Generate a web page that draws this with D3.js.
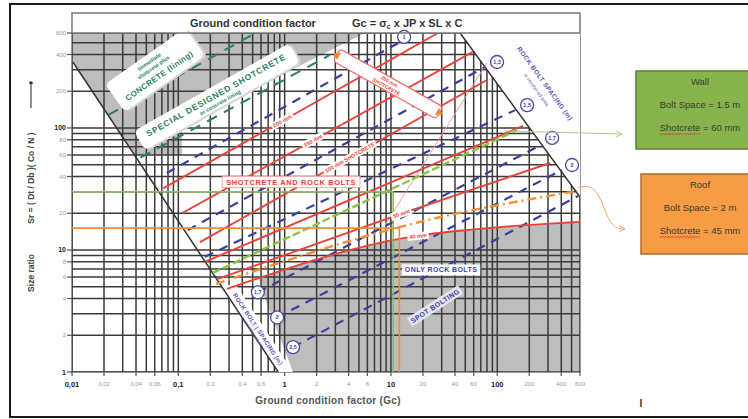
<!DOCTYPE html>
<html>
<head>
<meta charset="utf-8">
<script src="https://cdn.jsdelivr.net/npm/d3@7"></script>
<style>
  body { margin: 0; background: #fff; }
  svg { display: block; font-family: "Liberation Sans", Arial, sans-serif; }
</style>
</head>
<body>
<svg id="chart" width="748" height="419"></svg>
<script>
// axis ticks
const xTicks = [0.01, 0.02, 0.04, 0.06, 0.1, 0.2, 0.4, 0.6, 1, 2, 4, 6, 10, 20, 40, 60, 100, 200, 400, 600]
const xTickText = ['0,01', '0,02', '0,04', '0,06', '0,1', '0,2', '0,4', '0,6', '1', '2', '4', '6', '10', '20', '40', '60', '100', '200', '400', '600']
const yTicks = [1, 2, 4, 6, 8, 10, 20, 40, 60, 80, 100, 200, 400, 600]
const majorTicks = [0.01, 0.1, 1, 10, 100]

// shotcrete thickness lines, points are [Gc, Sr]
const shotcreteNames = ['200 mm', '150 mm', '100 mm SHOTCRETE', '', '50 mm', '40 mm']
const shotcreteLines = [
    [[0.072, 32], [27.7, 600]],
    [[0.108, 20], [59, 420]],
    [[0.16, 11.6], [80, 247]],
    [[0.178, 8.0], [175, 104]],
    [[0.236, 5.8], [12.2, 19.7], [314, 51.6]],
    [[0.287, 4.8], [15.1, 12.8], [106, 15.4], [600, 17.0]]
]
const shotcreteLabelGc = [0.95, 1.85, 4.1, null, 12.5, 18]

// rock bolt spacing lines (m)
const boltNames = ['1', '1,3', '1,5', '1,7', '2', '2,5']
const boltLines = [
    [[0.078, 42.8], [12.2, 507]],
    [[0.123, 14.6], [76.8, 316]],
    [[0.178, 8.8], [147, 140]],
    [[0.56, 4.5], [258, 72.6]],
    [[0.85, 2.8], [407, 45.3]],
    [[1.2, 1.6], [575, 27.7]]
]
const boltRingEnd = [[13.3, 557], [99.6, 347], [191, 154], [328, 82.8], [505, 49.7], null]
const boltRingStart = [null, null, null, [0.56, 4.5], [0.85, 2.8], [1.2, 1.6]]

// concrete lining lines
const liningLines = [
    [[0.022, 128], [0.53, 600]],
    [[0.044, 57], [2.67, 397]]
]

// boundaries and zones
const boundaryLeft = [[0.0102, 347], [0.87, 1]]
const boundaryRight = [[44.7, 600], [600, 27.2]]
const greyTop = [[0.01, 600], [5.7, 600], [1.56, 341], [0.108, 100], [0.108, 60], [0.0387, 60], [0.0102, 347], [0.01, 347]]
const greyBottomClip = [[0.61, 600], [600, 600], [600, 1], [1.2, 1], [0.61, 4.7]]
const whiteBand = [[0.247, 5.17], [0.349, 5.17], [1.2, 1], [0.87, 1]]
const whiteCorner = [[44.7, 600], [600, 600], [600, 27.2]]

// case study
const wallLine = [[0.212, 6.5], [153, 96]]
const roofLine = [[0.226, 5.27], [18.8, 17.0], [575, 30.5]]
const wallPoint = [10.5, 30]
const roofPoint = [12, 15.1]
const calloutEnds = [[2.85, 412], [30.9, 128]]
const pinkLine = [[80, 341], [8.8, 16]]
const wallText = ['Wall', 'Bolt Space = 1.5 m', 'Shotcrete = 60 mm']
const roofText = ['Roof', 'Bolt Space = 2 m', 'Shotcrete = 45 mm']

const RED = '#e8433b', BLUE = '#3b3f9c', TEAL = '#2f7f62', GREY = '#bdbdbd'

const svg = d3.select('#chart')
const x = d3.scaleLog().domain([0.01, 600]).range([72, 580])
const y = d3.scaleLog().domain([1, 600]).range([372, 33])
const P = d => [x(d[0]), y(d[1])]
const line = d3.line().x(d => x(d[0])).y(d => y(d[1])).curve(d3.curveMonotoneX)
const poly = pts => 'M' + pts.map(d => P(d).join(',')).join('L') + 'Z'

function pointOn(pts, g) {
    for (let i = 0; i < pts.length - 1; i++) {
        const a = pts[i], b = pts[i + 1]
        if (g >= a[0] && g <= b[0]) {
            const t = (Math.log(g) - Math.log(a[0])) / (Math.log(b[0]) - Math.log(a[0]))
            const s = Math.exp(Math.log(a[1]) + t * (Math.log(b[1]) - Math.log(a[1])))
            const ang = Math.atan2(y(b[1]) - y(a[1]), x(b[0]) - x(a[0])) * 180 / Math.PI
            return { px: x(g), py: y(s), ang }
        }
    }
}

function tag(parent, px, py, ang, txt, o) {
    const g = parent.append('g').attr('transform', `translate(${px},${py}) rotate(${ang})`)
    const r = g.append('rect')
    const t = g.append('text').attr('text-anchor', 'middle').attr('dy', '0.36em')
        .style('font-size', o.size + 'px').style('font-weight', 'bold')
        .attr('fill', o.color).attr('letter-spacing', o.ls || 0).text(txt)
    const w = t.node().getComputedTextLength() + (o.pad || 3) * 2
    const h = o.size + (o.hpad || 4)
    r.attr('x', -w / 2).attr('y', -h / 2).attr('width', w).attr('height', h)
        .attr('fill', o.fill || '#fff').attr('stroke', o.stroke || 'none').attr('stroke-width', 0.8)
        .attr('rx', o.rx || 0)
    return g
}

// outer border
svg.append('rect').attr('x', 10).attr('y', 4).attr('width', 760).attr('height', 413)
    .attr('fill', 'none').attr('stroke', '#1a1a1a').attr('stroke-width', 2)

const defs = svg.append('defs')
defs.append('clipPath').attr('id', 'plot').append('rect')
    .attr('x', 72).attr('y', 33).attr('width', 508).attr('height', 339)
defs.append('clipPath').attr('id', 'greyclip').append('path').attr('d', poly(greyBottomClip))

// chart frame and title band
svg.append('rect').attr('x', 72).attr('y', 13).attr('width', 508).attr('height', 359)
    .attr('fill', '#fff').attr('stroke', '#777').attr('stroke-width', 1.5)

const plot = svg.append('g').attr('clip-path', 'url(#plot)')

// grey zones
plot.append('path').attr('d', poly(greyTop)).attr('fill', GREY)
plot.append('path')
    .attr('d', d3.area().x(d => x(d[0])).y0(y(1)).y1(d => y(d[1])).curve(d3.curveMonotoneX)(shotcreteLines[5]))
    .attr('fill', GREY).attr('clip-path', 'url(#greyclip)')

// grid
const gx = x.ticks().filter(v => v >= 0.01 && v <= 600)
const gy = y.ticks().filter(v => v >= 1 && v <= 600)
plot.selectAll('.gx').data(gx).join('line').attr('class', 'gx')
    .attr('x1', d => x(d)).attr('x2', d => x(d)).attr('y1', 33).attr('y2', 372)
    .attr('stroke', '#3a3a3a').attr('stroke-width', 1.5)
plot.selectAll('.gy').data(gy).join('line').attr('class', 'gy')
    .attr('y1', d => y(d)).attr('y2', d => y(d)).attr('x1', 72).attr('x2', 580)
    .attr('stroke', '#3a3a3a').attr('stroke-width', 1.5)

// white zones without grid
plot.append('path').attr('d', poly(whiteCorner)).attr('fill', '#fff')
plot.append('path').attr('d', poly(whiteBand)).attr('fill', '#fff')

// boundaries
plot.selectAll('.bound').data([boundaryLeft, boundaryRight]).join('path').attr('class', 'bound')
    .attr('d', line).attr('fill', 'none').attr('stroke', '#333').attr('stroke-width', 1.5)

// concrete lining lines
plot.selectAll('.lining').data(liningLines).join('path').attr('class', 'lining')
    .attr('d', line).attr('fill', 'none').attr('stroke', TEAL).attr('stroke-width', 2)
    .attr('stroke-dasharray', '11,8')

// pink guide
plot.append('path').attr('d', line(pinkLine)).attr('fill', 'none')
    .attr('stroke', '#f3a0a0').attr('stroke-width', 1)

// bolt spacing lines
plot.selectAll('.bolt').data(boltLines).join('path').attr('class', 'bolt')
    .attr('d', line).attr('fill', 'none').attr('stroke', BLUE).attr('stroke-width', 2.2)
    .attr('stroke-dasharray', '9,7')

// shotcrete lines
plot.selectAll('.shot').data(shotcreteLines).join('path').attr('class', 'shot')
    .attr('d', line).attr('fill', 'none').attr('stroke', RED).attr('stroke-width', 1.9)

// wall and roof interpolation lines
plot.append('path').attr('d', line(wallLine)).attr('fill', 'none')
    .attr('stroke', '#8cc43f').attr('stroke-width', 2.4).attr('stroke-dasharray', '8,3')
plot.append('path').attr('d', line(roofLine)).attr('fill', 'none')
    .attr('stroke', '#f0922c').attr('stroke-width', 2.4).attr('stroke-dasharray', '9,4,2,4')

// reading lines
plot.append('path')
    .attr('d', `M${x(0.01)},${y(wallPoint[1])}H${x(wallPoint[0])}V${y(1)}`)
    .attr('fill', 'none').attr('stroke', '#8dc050').attr('stroke-width', 1.6)
plot.append('path')
    .attr('d', `M${x(0.01)},${y(roofPoint[1])}H${x(roofPoint[0])}V${y(1)}`)
    .attr('fill', 'none').attr('stroke', '#ee8e34').attr('stroke-width', 1.6)

// labels on shotcrete lines
shotcreteLines.forEach((pts, i) => {
    if (!shotcreteNames[i]) return
    const p = pointOn(pts, shotcreteLabelGc[i])
    tag(svg, p.px, p.py, p.ang, shotcreteNames[i], { size: 5.5, color: RED, pad: 2, hpad: 2 })
})

tag(svg, x(1.15), y(36.1), 0, 'SHOTCRETE AND ROCK BOLTS',
    { size: 7.5, color: RED, ls: 0.6, stroke: '#f29090', pad: 4, hpad: 4 })
tag(svg, x(29.6), y(6.86), 0, 'ONLY ROCK BOLTS',
    { size: 7, color: BLUE, ls: 0.4, pad: 3, hpad: 4 })
tag(svg, x(26), y(3.48), -33, 'SPOT BOLTING',
    { size: 7, color: BLUE, ls: 0.4, pad: 2, hpad: 3, fill: '#e4e4ee' })

// lining label boxes
function tealBox(px, py, ang, w, h, lines) {
    const g = svg.append('g').attr('transform', `translate(${px},${py}) rotate(${ang})`)
    g.append('rect').attr('x', -w / 2 + 2).attr('y', -h / 2 + 2).attr('width', w).attr('height', h)
        .attr('rx', 5).attr('fill', '#d6d6d6')
    g.append('rect').attr('x', -w / 2).attr('y', -h / 2).attr('width', w).attr('height', h)
        .attr('rx', 5).attr('fill', '#fff')
    lines.forEach(l => {
        g.append('text').attr('text-anchor', 'middle').attr('y', l[1])
            .style('font-size', l[2] + 'px').style('font-weight', 'bold')
            .attr('letter-spacing', l[3] || 0).attr('fill', TEAL).text(l[0])
    })
}
tealBox(x(0.0604), y(299), -35, 98, 34,
    [['Immediate', -8, 5.5], ['shotcrete plus', -1, 5.5], ['CONCRETE (lining)', 10, 8, 0.4]])
tealBox(x(0.231), y(180), -29.5, 178, 22,
    [['SPECIAL DESIGNED SHOTCRETE', 1, 8.5, 0.8], ['or concrete lining', 8.5, 5.5]])

// callout box
{
    const a = P(calloutEnds[0]), b = P(calloutEnds[1])
    const ang = Math.atan2(b[1] - a[1], b[0] - a[0]) * 180 / Math.PI
    const len = Math.hypot(b[0] - a[0], b[1] - a[1])
    const g = svg.append('g').attr('transform', `translate(${a[0]},${a[1]}) rotate(${ang})`)
    g.append('rect').attr('x', 4).attr('y', -7).attr('width', len - 8).attr('height', 14)
        .attr('rx', 4).attr('fill', '#fff').attr('stroke', '#ee6a6a').attr('stroke-width', 1.3)
    g.append('path').attr('d', 'M0,0L7,-4L7,4Z').attr('fill', '#f08a30')
    g.append('path').attr('d', `M${len},0L${len - 7},-4L${len - 7},4Z`).attr('fill', '#f08a30')
    g.append('text').attr('x', len / 2).attr('y', -1).attr('text-anchor', 'middle')
        .style('font-size', '5px').style('font-weight', 'bold').attr('fill', RED).text('250 mm')
    g.append('text').attr('x', len / 2).attr('y', 5).attr('text-anchor', 'middle')
        .style('font-size', '5px').style('font-weight', 'bold').attr('fill', RED).text('SHOTCRETE')
}

// bolt spacing rings
function ring(p, txt) {
    const [cx, cy] = P(p)
    svg.append('circle').attr('cx', cx).attr('cy', cy).attr('r', 6.5)
        .attr('fill', '#fff').attr('stroke', '#4a48a8').attr('stroke-width', 1.3)
    svg.append('text').attr('x', cx).attr('y', cy).attr('dy', '0.36em').attr('text-anchor', 'middle')
        .style('font-size', '5.5px').style('font-weight', 'bold').attr('fill', BLUE).text(txt)
}
boltRingEnd.forEach((p, i) => { if (p) ring(p, boltNames[i]) })
boltRingStart.forEach((p, i) => { if (p) ring(p, boltNames[i]) })

// rock bolt spacing texts
{
    const g = svg.append('g').attr('transform', `translate(${x(270)},${y(225)}) rotate(54)`)
    g.append('text').attr('text-anchor', 'middle').style('font-size', '6.5px').style('font-weight', 'bold')
        .attr('letter-spacing', 0.4).attr('fill', '#5a58b0').text('ROCK BOLT SPACING (m)')
    g.append('text').attr('text-anchor', 'middle').attr('y', 10).style('font-size', '5px')
        .attr('fill', '#5a58b0').text('in reinforced area')
    const h = svg.append('g').attr('transform', `translate(${x(0.55)},${y(2.21)}) rotate(56.5)`)
    h.append('text').attr('text-anchor', 'middle').attr('y', 1).style('font-size', '6px').style('font-weight', 'bold')
        .attr('letter-spacing', 0.3).attr('fill', '#5a58b0').text('ROCK BOLT | SPACING (m)')
    h.append('text').attr('text-anchor', 'middle').attr('y', 6.5).style('font-size', '4.5px')
        .attr('fill', '#5a58b0').text('in unreinforced area')
}

// title band
svg.append('line').attr('x1', 72).attr('x2', 580).attr('y1', 33).attr('y2', 33)
    .attr('stroke', '#777').attr('stroke-width', 1.5)
svg.append('text').attr('x', 190).attr('y', 27).style('font-size', '11px').style('font-weight', 'bold')
    .attr('fill', '#333').text('Ground condition factor')
const gc = svg.append('text').attr('x', 352).attr('y', 27).style('font-size', '11px')
    .style('font-weight', 'bold').attr('fill', '#333')
gc.append('tspan').text('Gc = σ')
gc.append('tspan').attr('dy', 2).style('font-size', '7px').text('c')
gc.append('tspan').attr('dy', -2).text(' x JP  x SL  x C')

// y axis
svg.selectAll('.ytick').data(yTicks).join('line').attr('class', 'ytick')
    .attr('x1', 67).attr('x2', 72).attr('y1', d => y(d)).attr('y2', d => y(d))
    .attr('stroke', '#555').attr('stroke-width', 1.2)
svg.selectAll('.ylab').data(yTicks).join('text').attr('class', 'ylab')
    .attr('x', 66).attr('y', d => y(d)).attr('dy', '0.36em').attr('text-anchor', 'end')
    .style('font-size', d => majorTicks.includes(d) ? '7px' : '6px')
    .style('font-weight', d => majorTicks.includes(d) ? 'bold' : 'normal')
    .attr('fill', d => majorTicks.includes(d) ? '#222' : '#999').text(d => d)

// x axis
svg.selectAll('.xtick').data(xTicks).join('line').attr('class', 'xtick')
    .attr('x1', d => x(d)).attr('x2', d => x(d)).attr('y1', 372).attr('y2', 376)
    .attr('stroke', '#555').attr('stroke-width', 1.2)
svg.selectAll('.xlab').data(xTicks).join('text').attr('class', 'xlab')
    .attr('x', d => x(d)).attr('y', 384).attr('dy', '0.36em').attr('text-anchor', 'middle')
    .style('font-size', d => majorTicks.includes(d) ? '7.5px' : '6px')
    .style('font-weight', d => majorTicks.includes(d) ? 'bold' : 'normal')
    .attr('fill', d => majorTicks.includes(d) ? '#222' : '#999')
    .text((d, i) => xTickText[i])

svg.append('text').attr('x', 328).attr('y', 404).attr('text-anchor', 'middle')
    .style('font-size', '10px').style('font-weight', 'bold').attr('fill', '#555')
    .attr('letter-spacing', 0.3).text('Ground condition factor  (Gc)')

// y title
{
    const g = svg.append('g').attr('transform', 'translate(31,0)')
    g.append('text').attr('transform', 'translate(0,273) rotate(-90)').attr('text-anchor', 'middle')
        .attr('dy', '0.36em').style('font-size', '8.5px').style('font-weight', 'bold').attr('fill', '#444')
        .text('Size ratio')
    g.append('text').attr('transform', 'translate(0,178) rotate(-90)').attr('text-anchor', 'middle')
        .attr('dy', '0.36em').style('font-size', '8.5px').style('font-weight', 'bold').attr('fill', '#444')
        .text('Sr = ( Dt / Db )( Co / N )')
    g.append('line').attr('x1', 0).attr('x2', 0).attr('y1', 108).attr('y2', 85)
        .attr('stroke', '#444').attr('stroke-width', 1.2)
    g.append('circle').attr('cx', 0).attr('cy', 83).attr('r', 1.8).attr('fill', '#333')
}

// result boxes
function resultBox(bx, by, w, h, fill, stroke, lines) {
    svg.append('rect').attr('x', bx).attr('y', by).attr('width', w).attr('height', h)
        .attr('fill', fill).attr('stroke', stroke).attr('stroke-width', 1.5)
    const cx = 700
    let last
    lines.forEach((t, i) => {
        last = svg.append('text').attr('x', cx).attr('y', by + 14 + i * 23).attr('text-anchor', 'middle')
            .style('font-size', '9.5px').attr('fill', '#3a3a2a').text(t)
    })
    // spell-check squiggle under "Shotcrete"
    const full = last.node().getComputedTextLength()
    const word = last.node().getSubStringLength(0, 9)
    const sx = cx - full / 2, sy = by + 14 + 2 * 23 + 2.5
    const pts = d3.range(0, word, 1.5).map((d, i) => [sx + d, sy + (i % 2 ? 1 : 0)])
    svg.append('path').attr('d', d3.line()(pts)).attr('fill', 'none')
        .attr('stroke', '#d03030').attr('stroke-width', 0.8)
}
resultBox(636, 71, 140, 78, '#87b44d', '#5e7f36', wallText)
resultBox(641, 174, 135, 80, '#f59c45', '#b36a2a', roofText)

// arrows to boxes
{
    const [sx, sy] = P([118, 94.5])
    svg.append('line').attr('x1', sx).attr('y1', sy).attr('x2', 621).attr('y2', 134)
        .attr('stroke', '#a8cf88').attr('stroke-width', 1)
    svg.append('path').attr('d', 'M616,131L622,134L616,137').attr('fill', 'none')
        .attr('stroke', '#a8cf88').attr('stroke-width', 1)
    const [ox, oy] = P(roofLine[2])
    svg.append('path').attr('d', `M${ox},${oy - 3}C${ox + 18},${oy - 10} ${ox + 22},${oy + 8} ${ox + 28},${oy + 22}S${ox + 38},${oy + 38} ${ox + 46},${oy + 38}`)
        .attr('fill', 'none').attr('stroke', '#f2a46a').attr('stroke-width', 1)
    svg.append('path').attr('d', `M${ox + 41},${oy + 35}L${ox + 47},${oy + 38}L${ox + 41},${oy + 41}`)
        .attr('fill', 'none').attr('stroke', '#f2a46a').attr('stroke-width', 1)
}

svg.append('text').attr('x', 641).attr('y', 407).attr('text-anchor', 'middle')
    .style('font-size', '10px').style('font-weight', 'bold').attr('fill', '#333').text('I')
</script>
</body>
</html>
